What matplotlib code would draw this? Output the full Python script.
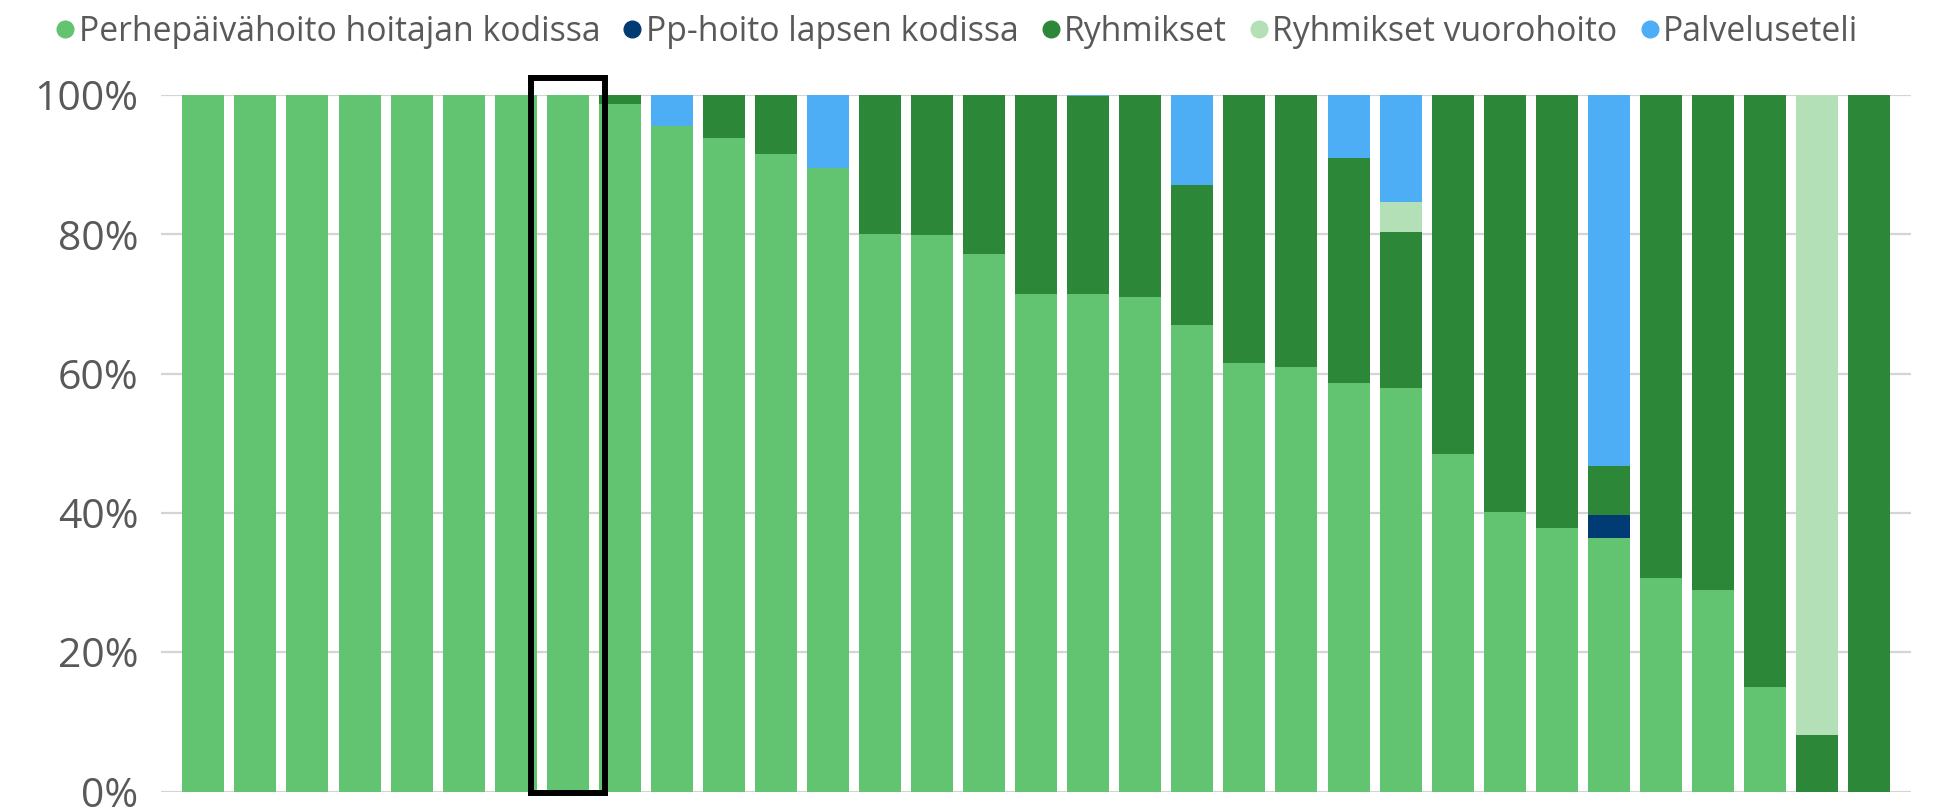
import matplotlib
matplotlib.use("Agg")
import matplotlib.pyplot as plt
from matplotlib.patches import Rectangle
from matplotlib.lines import Line2D
import numpy as np

plt.rcParams['font.family'] = ['Open Sans', 'DejaVu Sans']

series_names = ["Perhepäivähoito hoitajan kodissa", "Pp-hoito lapsen kodissa",
                "Ryhmikset", "Ryhmikset vuorohoito", "Palveluseteli"]
colors = ["#62C370", "#003B73", "#2D8739", "#B3E0B7", "#4DAEF5"]

perhe = [100, 100, 100, 100, 100, 100, 100, 100, 98.7, 95.5, 93.8, 91.5, 89.5,
         80.1, 79.9, 77.2, 71.5, 71.5, 71.0, 67.0, 61.5, 61.0, 58.6, 57.9, 48.4,
         40.1, 37.8, 36.35, 30.6, 29.0, 15.0, 0, 0]
pp_hoito = [0, 0, 0, 0, 0, 0, 0, 0, 0, 0, 0, 0, 0, 0, 0, 0, 0, 0, 0, 0, 0, 0,
            0, 0, 0, 0, 0, 3.3, 0, 0, 0, 0, 0]
ryhmikset = [0, 0, 0, 0, 0, 0, 0, 0, 1.3, 0, 6.2, 8.5, 0, 19.9, 20.1, 22.8,
             28.5, 28.3, 29.0, 20.1, 38.5, 39.0, 32.3, 22.4, 51.6, 59.9, 62.2,
             7.15, 69.4, 71.0, 85.0, 8.1, 100]
vuorohoito = [0, 0, 0, 0, 0, 0, 0, 0, 0, 0, 0, 0, 0, 0, 0, 0, 0, 0, 0, 0, 0, 0,
              0, 4.35, 0, 0, 0, 0, 0, 0, 0, 91.9, 0]
palveluseteli = [0, 0, 0, 0, 0, 0, 0, 0, 0, 4.5, 0, 0, 10.5, 0, 0, 0, 0, 0.2, 0,
                 12.9, 0, 0, 9.1, 15.35, 0, 0, 0, 53.2, 0, 0, 0, 0, 0]
highlight_index = 7

data = [perhe, pp_hoito, ryhmikset, vuorohoito, palveluseteli]
n = len(perhe)
x = np.arange(n)

fig = plt.figure(figsize=(19.55, 8.11), dpi=100)
ax = fig.add_axes([160.7/1955, (811-791.5)/811, (1910.7-160.7)/1955, (791.5-95)/811])

bottom = np.zeros(n)
for vals, col in zip(data, colors):
    v = np.array(vals, dtype=float)
    ax.bar(x, v, width=0.807, bottom=bottom, color=col, zorder=2, linewidth=0)
    bottom += v

ax.set_xlim(-0.82, 32.80)
ax.set_ylim(0, 100)
ax.set_yticks([0, 20, 40, 60, 80, 100])
ax.set_yticklabels([f"{t}%" for t in [0, 20, 40, 60, 80, 100]])
ax.set_xticks([])
ax.tick_params(axis='y', length=0, pad=16, labelsize=29.5, labelcolor="#595959")
for s in ax.spines.values():
    s.set_visible(False)
ax.grid(axis='y', color="#D4D4D4", linewidth=1.6, zorder=0)
ax.set_axisbelow(True)

# highlight box
ax.add_patch(Rectangle((highlight_index - 0.714, -0.2), 1.428, 102.7,
                       fill=False, edgecolor="black", linewidth=4.3,
                       clip_on=False, zorder=5))

handles = [Line2D([0], [0], marker='o', linestyle='none', markersize=12,
                  markerfacecolor=c, markeredgecolor=c) for c in colors]
fig.legend(handles, series_names, loc='center', bbox_to_anchor=(955/1955, 1 - 32/811),
           ncol=5, frameon=False, fontsize=24.3, labelcolor="#595959",
           handletextpad=0.0, columnspacing=0.55, handlelength=0.8,
           borderaxespad=0, borderpad=0)

fig.savefig("out.png", dpi=100)
